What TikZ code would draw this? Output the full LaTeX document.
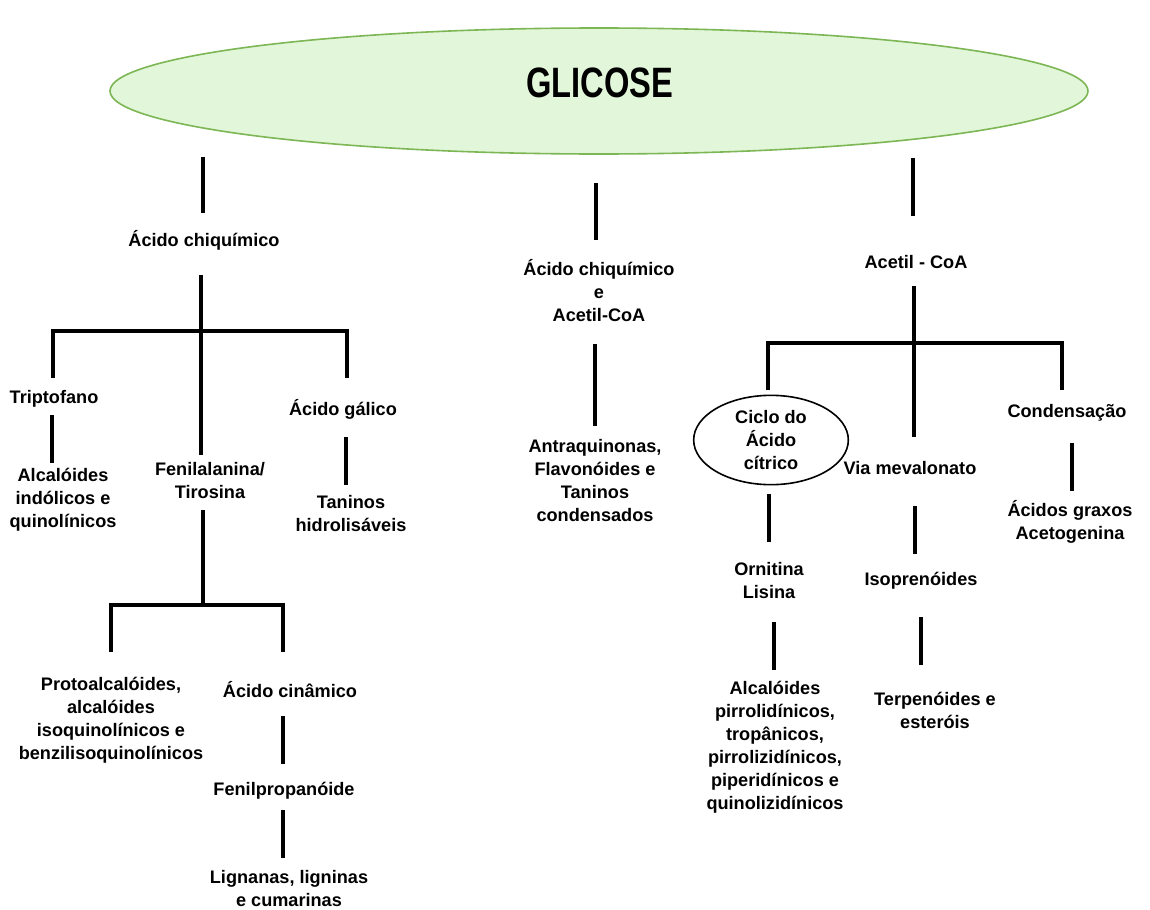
\documentclass[tikz,border=0pt]{standalone}
\usepackage{fontspec}
\setmainfont{Liberation Sans}
\usetikzlibrary{shapes.geometric}
\definecolor{glfill}{HTML}{E2F6DA}
\definecolor{gldraw}{HTML}{7DB654}
\begin{document}
\begin{tikzpicture}[x=0.75pt,y=-0.75pt,
  lbl/.style={align=center,inner sep=0pt,font=\fontsize{13.6}{17.25}\selectfont\bfseries},
  conn/.style={line width=3pt,black}]
\useasboundingbox (0,0) rectangle (1150,910);
% root
\node[ellipse,draw=gldraw,fill=glfill,line width=1.2pt,inner sep=0pt,minimum width=733.5pt,minimum height=94.5pt] (glicose) at (599,91) {};
\node[inner sep=0pt,font=\fontsize{24.5}{28}\selectfont\bfseries] (gtxt) at (600,83) {\scalebox{1}[1.3]{GLICOSE}};
% left branch nodes
\node[lbl] (ach) at (204,240) {Ácido chiquímico};
\node[lbl] (trip) at (54,399) {Triptofano};
\node[lbl] (aind) at (63,500) {Alcalóides\\indólicos e\\quinolínicos};
\node[lbl] (fen) at (210,481) {Fenilalanina/\\Tirosina};
\node[lbl] (agal) at (343,409) {Ácido gálico};
\node[lbl] (tan) at (351,514) {Taninos\\hidrolisáveis};
\node[lbl] (proto) at (111,720) {Protoalcalóides,\\alcalóides\\isoquinolínicos e\\benzilisoquinolínicos};
\node[lbl] (acin) at (290,690) {Ácido cinâmico};
\node[lbl] (fpro) at (284,791) {Fenilpropanóide};
\node[lbl] (lig) at (289,889) {Lignanas, ligninas\\e cumarinas};
% middle branch nodes
\node[lbl] (mid) at (599,291) {Ácido chiquímico\\e\\Acetil-CoA};
\node[lbl] (antr) at (595,481) {Antraquinonas,\\Flavonóides e\\Taninos\\condensados};
% right branch nodes
\node[lbl] (acoa) at (916,262) {Acetil - CoA};
\node[ellipse,draw,line width=1.2pt,minimum width=116pt,minimum height=67pt,inner sep=0pt] (ciclo) at (771,440) {};
\node[lbl] (ciclot) at (771,440) {Ciclo do\\Ácido\\cítrico};
\node[lbl] (viam) at (910,468) {Via mevalonato};
\node[lbl] (cond) at (1067,413) {Condensação};
\node[lbl] (agrax) at (1070,522) {Ácidos graxos\\Acetogenina};
\node[lbl] (orn) at (769,581) {Ornitina\\Lisina};
\node[lbl] (iso) at (921,581) {Isoprenóides};
\node[lbl] (apir) at (775,747) {Alcalóides\\pirrolidínicos,\\tropânicos,\\pirrolizidínicos,\\piperidínicos e\\quinolizidínicos};
\node[lbl] (terp) at (935,710) {Terpenóides e\\esteróis};
% connector coordinates
\coordinate (a1) at (203,157); \coordinate (a2) at (203,213);
\coordinate (b1) at (201,275); \coordinate (b2) at (201,455);
\coordinate (bl) at (53,331); \coordinate (br) at (347,331);
\coordinate (bld) at (53,378); \coordinate (brd) at (347,378);
\coordinate (t1) at (52,415); \coordinate (t2) at (52,463);
\coordinate (g1) at (346,437); \coordinate (g2) at (346,485);
\coordinate (f1) at (203,510); \coordinate (f2) at (203,605);
\coordinate (fl) at (111,605); \coordinate (fr) at (283,605);
\coordinate (fld) at (111,652); \coordinate (frd) at (283,652);
\coordinate (c1) at (283,716); \coordinate (c2) at (283,764);
\coordinate (p1) at (283,810); \coordinate (p2) at (283,858);
\coordinate (m1) at (596,183); \coordinate (m2) at (596,240);
\coordinate (n1) at (595,344); \coordinate (n2) at (595,426);
\coordinate (r1) at (913,158); \coordinate (r2) at (913,216);
\coordinate (s1) at (914,286); \coordinate (s2) at (914,437);
\coordinate (sl) at (768,343); \coordinate (sr) at (1062,343);
\coordinate (sld) at (768,390); \coordinate (srd) at (1062,390);
\coordinate (k1) at (1072,443); \coordinate (k2) at (1072,491);
\coordinate (o1) at (769,494); \coordinate (o2) at (769,542);
\coordinate (i1) at (915,506); \coordinate (i2) at (915,554);
\coordinate (q1) at (774,622); \coordinate (q2) at (774,670);
\coordinate (e1) at (921,617); \coordinate (e2) at (921,665);
% connectors
\draw[conn] (a1) -- (a2);
\draw[conn] (b1) -- (b2);
\draw[conn] (bld) -- (bl) -- (br) -- (brd);
\draw[conn] (t1) -- (t2);
\draw[conn] (g1) -- (g2);
\draw[conn] (f1) -- (f2);
\draw[conn] (fld) -- (fl) -- (fr) -- (frd);
\draw[conn] (c1) -- (c2);
\draw[conn] (p1) -- (p2);
\draw[conn] (m1) -- (m2);
\draw[conn] (n1) -- (n2);
\draw[conn] (r1) -- (r2);
\draw[conn] (s1) -- (s2);
\draw[conn] (sld) -- (sl) -- (sr) -- (srd);
\draw[conn] (k1) -- (k2);
\draw[conn] (o1) -- (o2);
\draw[conn] (i1) -- (i2);
\draw[conn] (q1) -- (q2);
\draw[conn] (e1) -- (e2);
\end{tikzpicture}
\end{document}
